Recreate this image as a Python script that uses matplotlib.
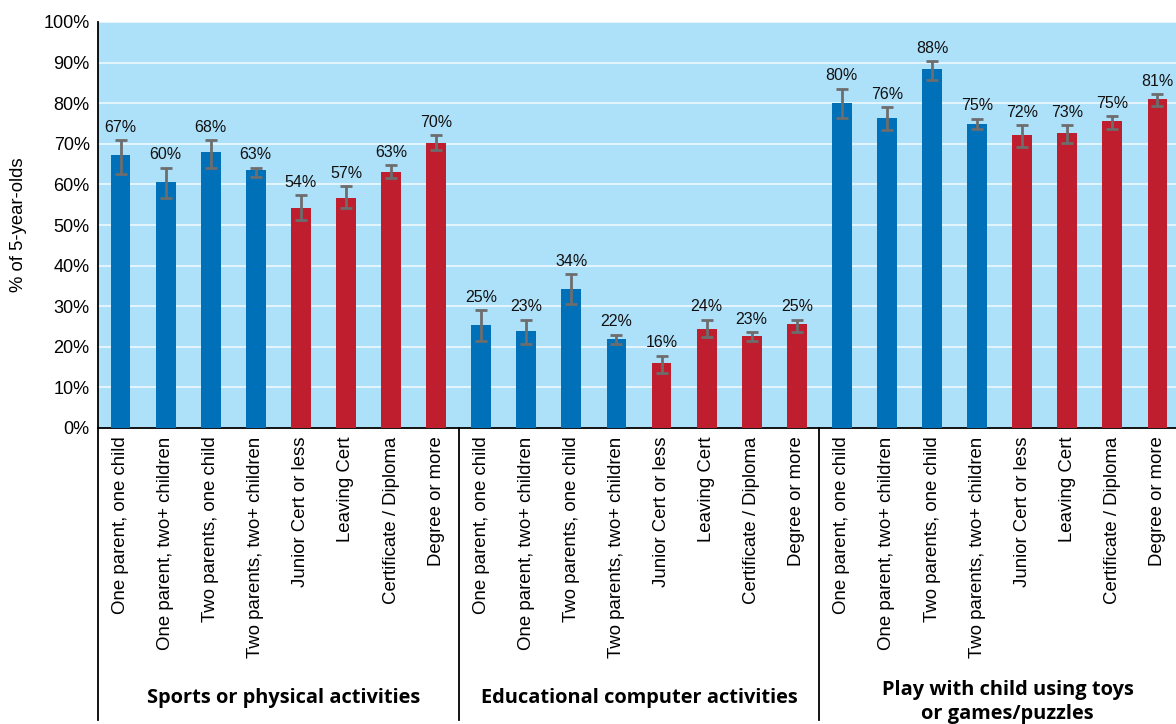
import matplotlib
matplotlib.use("Agg")
import matplotlib.pyplot as plt
import matplotlib.transforms as mtransforms
import numpy as np

categories = ["One parent, one child", "One parent, two+ children",
              "Two parents, one child", "Two parents, two+ children",
              "Junior Cert or less", "Leaving Cert",
              "Certificate / Diploma", "Degree or more"]
groups = ["Sports or physical activities",
          "Educational computer activities",
          "Play with child using toys\nor games/puzzles"]

sports = [67.2, 60.6, 68.0, 63.5, 54.2, 56.7, 63.1, 70.2]
sports_lo = [62.6, 56.7, 64.1, 61.8, 51.2, 54.2, 61.6, 68.5]
sports_hi = [70.9, 64.1, 70.9, 64.1, 57.4, 59.6, 64.8, 72.2]

computer = [25.4, 24.0, 34.3, 21.8, 16.1, 24.4, 22.7, 25.6]
computer_lo = [21.4, 20.7, 30.5, 20.7, 13.6, 22.3, 21.4, 23.7]
computer_hi = [29.0, 26.7, 37.9, 23.0, 17.8, 26.7, 23.7, 26.7]

play = [80.0, 76.4, 88.4, 74.9, 72.2, 72.7, 75.6, 81.0]
play_lo = [76.4, 73.4, 85.8, 73.7, 69.3, 70.2, 73.7, 79.2]
play_hi = [83.6, 79.1, 90.4, 76.2, 74.6, 74.6, 76.8, 82.2]

labels = [["67%", "60%", "68%", "63%", "54%", "57%", "63%", "70%"],
          ["25%", "23%", "34%", "22%", "16%", "24%", "23%", "25%"],
          ["80%", "76%", "88%", "75%", "72%", "73%", "75%", "81%"]]

BLUE = "#0070b9"
RED = "#be1e2d"
BG = "#ade0f9"
ERR = "#6d6d6d"

plt.rcParams['font.family'] = ['Liberation Sans', 'DejaVu Sans']

fig = plt.figure(figsize=(11.76, 7.24), dpi=100)
W, H = 1176, 724
x0, x1 = 98, 1180
ytop, ybot = 22, 428
ax = fig.add_axes([x0 / W, (H - ybot) / H, (x1 - x0) / W, (ybot - ytop) / H])
ax.set_facecolor(BG)

vals = sports + computer + play
lo = sports_lo + computer_lo + play_lo
hi = sports_hi + computer_hi + play_hi
lbls = labels[0] + labels[1] + labels[2]
xs = np.arange(len(vals))
colors = ([BLUE] * 4 + [RED] * 4) * 3

ax.bar(xs, vals, width=0.44, color=colors, zorder=3)
yerr = np.array([np.array(vals) - np.array(lo), np.array(hi) - np.array(vals)])
ax.errorbar(xs, vals, yerr=yerr, fmt="none", ecolor=ERR, elinewidth=2,
            capsize=4.5, capthick=2, zorder=4)
for x, h, t in zip(xs, hi, lbls):
    ax.text(x, h + 1.3, t, ha="center", va="bottom", fontsize=11.5,
            color="#111111", zorder=5)

ax.set_xlim(-0.5, 23.5)
ax.set_ylim(0, 100)
ax.set_yticks(np.arange(0, 101, 10))
ax.set_yticklabels([f"{v}%" for v in range(0, 101, 10)], fontsize=13)
ax.yaxis.grid(True, color="white", linewidth=1.2, alpha=0.8, zorder=1)
ax.set_axisbelow(True)
ax.tick_params(axis="y", length=0, pad=6)
ax.tick_params(axis="x", length=0, pad=6)
ax.set_xticks(xs)
ax.set_xticklabels(categories * 3, rotation=90, fontsize=13.4, va="top")
ax.set_ylabel("% of 5-year-olds", fontsize=13.3, labelpad=12)

for s in ["top", "right"]:
    ax.spines[s].set_visible(False)
ax.spines["left"].set_linewidth(1.3)
ax.spines["bottom"].set_linewidth(1.3)

trans = mtransforms.blended_transform_factory(ax.transData, ax.transAxes)
y_end = -(720 - ybot) / (ybot - ytop)
for xb in [-0.5, 7.5, 15.5]:
    ax.plot([xb, xb], [0, y_end], transform=trans, color="black",
            linewidth=1.3, clip_on=False)

offsets = [0.11, 0.0, 0.18]
for i, g in enumerate(groups):
    yy = -(698 - ybot) / (ybot - ytop) if "\n" not in g else -(702 - ybot) / (ybot - ytop)
    ax.text(i * 8 + 3.5 + offsets[i], yy, g, transform=trans, ha="center", va="center",
            fontsize=14.4, fontweight="bold", family=["Open Sans", "DejaVu Sans"],
            linespacing=1.25)

fig.savefig("out.png", dpi=100, facecolor="white")
